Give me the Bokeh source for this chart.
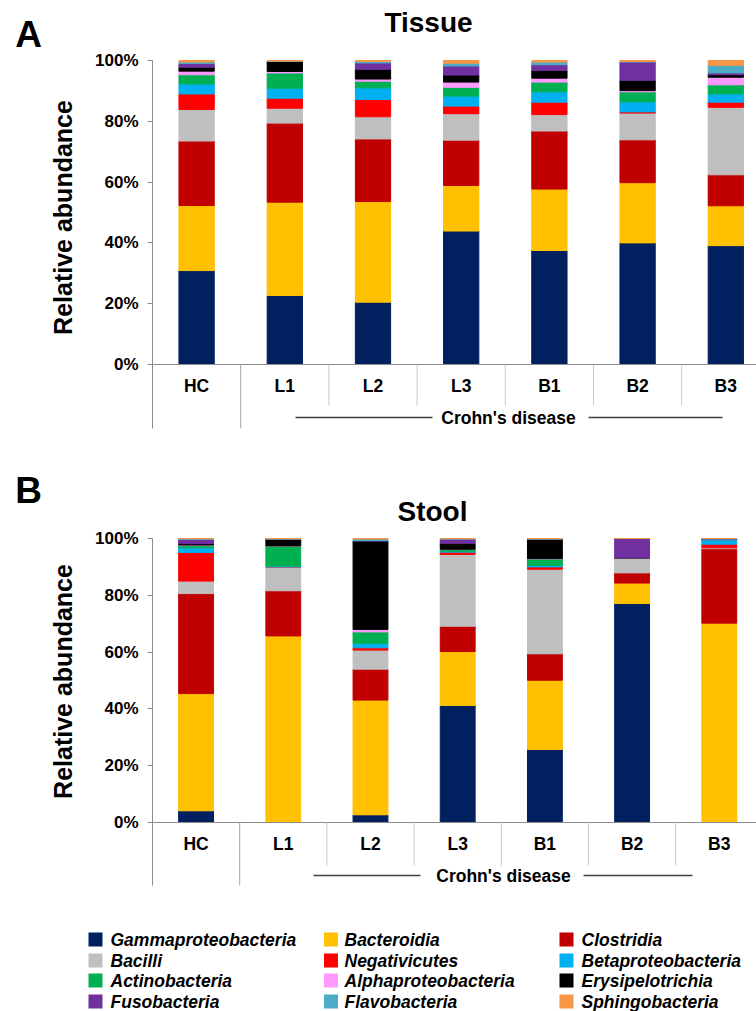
import math
from bokeh.plotting import figure
from bokeh.models import ColumnDataSource, Range1d, FixedTicker, PrintfTickFormatter, Label
from bokeh.layouts import column
from bokeh.core.properties import value
from bokeh.embed import file_html
from bokeh.resources import INLINE

FONT = "Liberation Sans"

classes = ["Gammaproteobacteria", "Bacteroidia", "Clostridia", "Bacilli",
           "Negativicutes", "Betaproteobacteria", "Actinobacteria",
           "Alphaproteobacteria", "Erysipelotrichia", "Fusobacteria",
           "Flavobacteria", "Sphingobacteria"]
colors = ["#002060", "#FFC000", "#C00000", "#BFBFBF", "#FF0000", "#00B0F0",
          "#00B050", "#FF99FF", "#000000", "#7030A0", "#4BACC6", "#F79646"]
categories = ["HC", "L1", "L2", "L3", "B1", "B2", "B3"]
group_label = "Crohn's disease"
y_ticks = [0, 20, 40, 60, 80, 100]

# Tissue (% per class, in the order of `classes`)
tissue_hc = [30.9, 21.4, 21.2, 10.4, 5.1, 3.3, 3.0, 1.2, 1.3, 1.2, 0.5, 0.5]
tissue_l1 = [22.7, 30.7, 26.0, 4.9, 3.3, 3.3, 5.0, 0.5, 3.3, 0.0, 0.1, 0.2]
tissue_l2 = [20.5, 33.1, 20.6, 7.3, 5.7, 3.8, 2.2, 0.7, 3.2, 2.1, 0.5, 0.3]
tissue_l3 = [43.9, 15.0, 14.9, 8.7, 2.5, 3.3, 2.9, 1.7, 2.3, 3.0, 0.9, 0.9]
tissue_b1 = [37.5, 20.2, 19.1, 5.4, 4.1, 3.4, 3.2, 1.3, 2.5, 1.9, 0.9, 0.5]
tissue_b2 = [40.0, 19.8, 14.1, 8.8, 0.4, 3.3, 3.3, 0.4, 3.4, 6.0, 0.2, 0.3]
tissue_b3 = [39.1, 13.1, 10.2, 22.2, 1.7, 2.7, 3.0, 2.5, 0.8, 0.6, 2.5, 1.6]

# Stool
stool_hc = [4.1, 41.3, 35.2, 4.4, 10.1, 1.6, 0.8, 0.2, 0.5, 1.5, 0.2, 0.1]
stool_l1 = [0.0, 65.7, 15.9, 8.4, 0.0, 0.3, 7.1, 0.0, 2.4, 0.0, 0.1, 0.1]
stool_l2 = [2.7, 40.4, 10.9, 6.7, 0.8, 1.6, 4.0, 0.9, 31.2, 0.0, 0.6, 0.2]
stool_l3 = [41.2, 19.0, 8.9, 25.3, 0.8, 0.3, 0.6, 0.1, 2.1, 1.5, 0.1, 0.1]
stool_b1 = [25.7, 24.4, 9.3, 29.8, 0.8, 0.5, 2.3, 0.1, 6.9, 0.0, 0.1, 0.1]
stool_b2 = [77.1, 7.2, 3.6, 5.1, 0.2, 0.0, 0.0, 0.0, 0.0, 6.8, 0.0, 0.0]
stool_b3 = [0.0, 70.2, 26.2, 0.3, 1.3, 1.6, 0.0, 0.0, 0.2, 0.0, 0.2, 0.0]

tissue_rows = [tissue_hc, tissue_l1, tissue_l2, tissue_l3, tissue_b1, tissue_b2, tissue_b3]
stool_rows = [stool_hc, stool_l1, stool_l2, stool_l3, stool_b1, stool_b2, stool_b3]

W = 756


def panel(rows, letter, title, px_x, top_px, height, px_y, zero_px, frame_bottom_px,
          title_px, letter_px, ylab_py, lab_py, sep_py, crohn_py, crohn_px,
          left_px, right_px):
    # pixel -> data helpers (axis at x=152, category width px_x, px_y per percent)
    fx = lambda px: (px - 152) / px_x
    fy = lambda py: (zero_px - py) / px_y
    data = {"x": [i + 0.5 for i in range(len(categories))]}
    for j, c in enumerate(classes):
        data[c] = [r[j] for r in rows]
    src = ColumnDataSource(data)

    p = figure(width=W, height=height, x_range=Range1d(fx(0), fx(W)),
               y_range=Range1d(fy(top_px + height), fy(top_px)),
               x_axis_location=None, y_axis_location="left",
               toolbar_location=None, output_backend="svg", min_border=0)
    p.grid.visible = False
    p.outline_line_color = None
    p.background_fill_color = "white"

    p.vbar_stack(classes, x="x", width=0.4, color=colors, source=src)

    ybot = fy(frame_bottom_px)
    ax = p.yaxis[0]
    ax.fixed_location = 0
    ax.ticker = FixedTicker(ticks=y_ticks)
    ax.formatter = PrintfTickFormatter(format="%d%%")
    ax.major_label_text_font = FONT
    ax.major_label_text_font_style = "bold"
    ax.major_label_text_font_size = "17px"
    ax.major_label_text_color = "black"
    ax.axis_line_color = None
    ax.major_tick_line_color = "#8C8C8C"
    ax.major_tick_out = 5
    ax.major_tick_in = 0
    ax.minor_tick_out = 0
    ax.minor_tick_in = 0
    ax.major_label_standoff = 9

    x_end = fx(W)
    # axis line, baseline and category separators
    p.segment(x0=[0], y0=[ybot], x1=[0], y1=[100], line_color="#8C8C8C", line_width=1)
    p.segment(x0=[0], y0=[0], x1=[x_end], y1=[0], line_color="#8C8C8C", line_width=1)
    p.segment(x0=[1], y0=[0], x1=[1], y1=[ybot], line_color="#A6A6A6", line_width=1)
    seps = list(range(2, len(categories) + 1))
    p.segment(x0=seps, y0=[0] * len(seps), x1=seps, y1=[fy(sep_py)] * len(seps),
              line_color="#C8C8C8", line_width=1)

    p.text(x=data["x"], y=[fy(lab_py)] * len(categories), text=categories,
           text_font=value(FONT), text_font_style="bold", text_font_size="17.5px",
           text_align="center", text_baseline="middle", text_color="black")

    cy = fy(crohn_py)
    p.text(x=[fx(crohn_px)], y=[cy], text=[group_label], text_font=value(FONT),
           text_font_style="bold", text_font_size="17.5px", text_align="center",
           text_baseline="middle", text_color="black")
    p.segment(x0=[fx(left_px[0]), fx(right_px[0])], y0=[cy, cy],
              x1=[fx(left_px[1]), fx(right_px[1])], y1=[cy, cy],
              line_color="#404040", line_width=1.5)

    p.add_layout(Label(x=fx(letter_px[0]), y=fy(letter_px[1]), text=letter, text_font=FONT,
                       text_font_style="bold", text_font_size="37px",
                       text_align="center", text_baseline="middle", text_color="black"))
    p.add_layout(Label(x=fx(title_px[0]), y=fy(title_px[1]), text=title, text_font=FONT,
                       text_font_style="bold", text_font_size="28px",
                       text_align="center", text_baseline="middle", text_color="black"))
    p.add_layout(Label(x=fx(62), y=fy(ylab_py), text="Relative abundance", text_font=FONT,
                       text_font_style="bold", text_font_size="25px", angle=math.pi / 2,
                       text_align="center", text_baseline="middle", text_color="black"))
    return p


p1 = panel(tissue_rows, "A", "Tissue", px_x=88.2, top_px=0, height=448, px_y=3.04,
           zero_px=364, frame_bottom_px=428, title_px=(428, 22), letter_px=(28, 34),
           ylab_py=217, lab_py=385, sep_py=405, crohn_py=417, crohn_px=508,
           left_px=(295, 432), right_px=(588, 722))

p2 = panel(stool_rows, "B", "Stool", px_x=87.2, top_px=448, height=452, px_y=2.84,
           zero_px=822, frame_bottom_px=885, title_px=(432, 511), letter_px=(28, 490),
           ylab_py=681, lab_py=843, sep_py=865, crohn_py=875, crohn_px=503,
           left_px=(313, 420), right_px=(583, 692))

# legend panel (3 columns, row-major), page pixel coordinates
leg = figure(width=W, height=111, x_range=Range1d(0, W), y_range=Range1d(1011, 900),
             x_axis_location=None, y_axis_location=None, toolbar_location=None,
             output_backend="svg", min_border=0)
leg.grid.visible = False
leg.outline_line_color = None
col_sq = [95, 330.5, 566]
col_tx = [110, 344, 581]
row_y = [939, 960, 980, 1001]
sq_x = [col_sq[i % 3] for i in range(len(classes))]
tx_x = [col_tx[i % 3] for i in range(len(classes))]
ys = [row_y[i // 3] for i in range(len(classes))]
leg.rect(x=sq_x, y=ys, width=14, height=14, fill_color=colors, line_color=None)
leg.text(x=tx_x, y=ys, text=classes, text_font=value(FONT), text_font_style="bold italic",
         text_font_size="17.5px", text_align="left", text_baseline="middle", text_color="black")

layout = column(p1, p2, leg, spacing=0)
open("out.html", "w").write(file_html(layout, INLINE))
